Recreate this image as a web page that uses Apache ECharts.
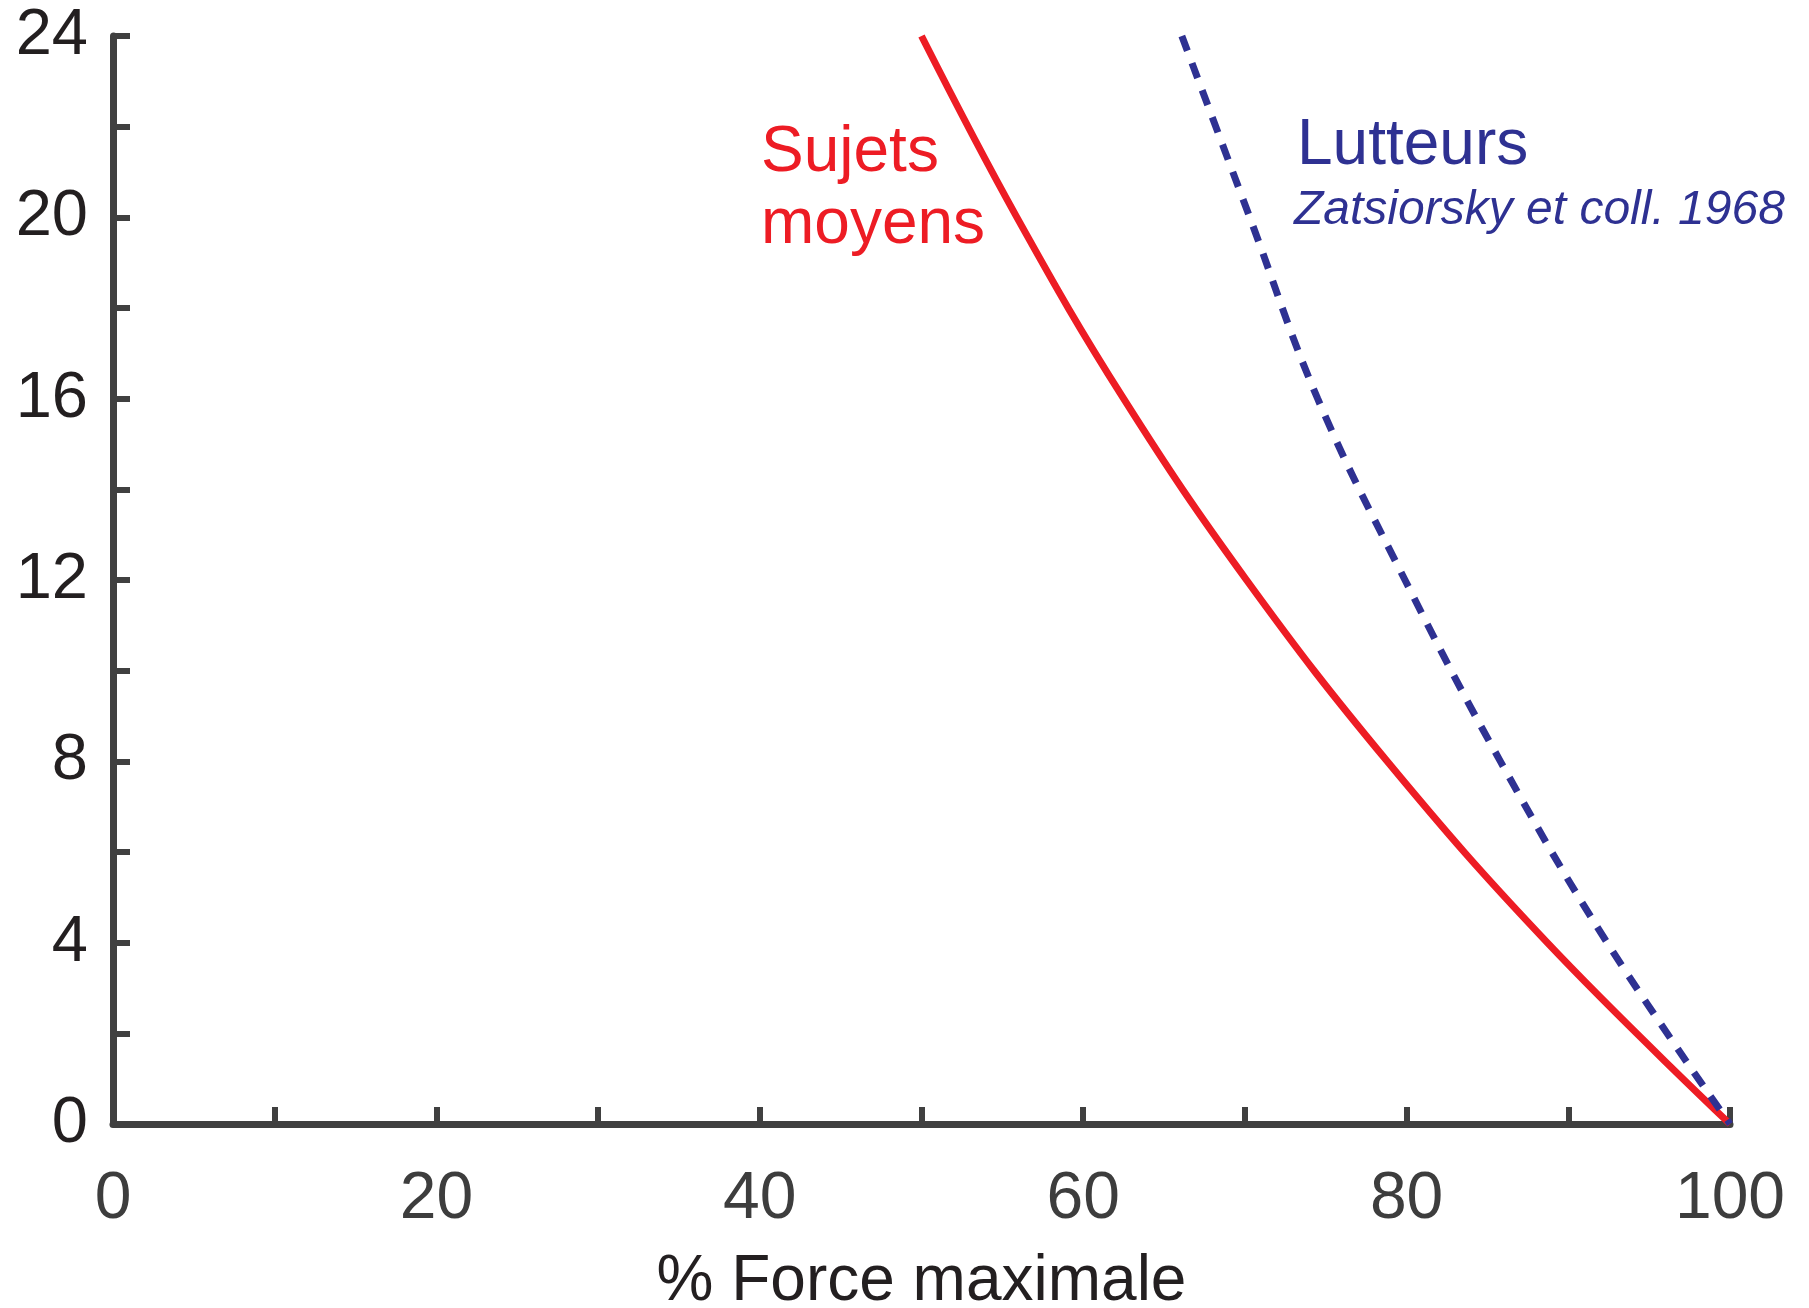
<!DOCTYPE html>
<html>
<head>
<meta charset="utf-8">
<script src="https://cdn.jsdelivr.net/npm/echarts@6/dist/echarts.min.js"></script>
<style>html,body{margin:0;padding:0;background:#fff}#c{width:1809px;height:1308px}</style>
</head>
<body>
<div id="c"></div>
<script>
// Data: [% force maximale, y]
const sujetsX = [50, 55.9, 62.5, 70.1, 78.8, 88.7, 100];
const sujetsY = [24, 20, 16, 12, 8, 4, 0];
const lutteursX = [66.1, 70.3, 74.5, 79.9, 85.8, 92.4, 100];
const lutteursY = [24, 20, 16, 12, 8, 4, 0];
const xTicks = [0, 20, 40, 60, 80, 100];
const yTicks = [0, 4, 8, 12, 16, 20, 24];
const xTitle = '% Force maximale';
const label1 = 'Sujets\nmoyens';
const label2 = 'Lutteurs';
const label3 = 'Zatsiorsky et coll. 1968';

const zip = (a, b) => a.map((v, i) => [v, b[i]]);
const FONT = '"Liberation Sans", Arial, sans-serif';
const axisCol = '#404040';

const chart = echarts.init(document.getElementById('c'));
chart.setOption({
  animation: false,
  backgroundColor: '#fff',
  grid: { left: 113, right: 79, top: 36, bottom: 184, containLabel: false, outerBoundsMode: 'none' },
  xAxis: {
    type: 'value', min: 0, max: 100, interval: 10,
    name: xTitle, nameLocation: 'middle', nameGap: 126,
    nameTextStyle: { fontFamily: FONT, fontSize: 64, color: '#231f20' },
    axisLine: { lineStyle: { color: axisCol, width: 7 } },
    axisTick: { inside: true, length: 17, lineStyle: { color: axisCol, width: 6 } },
    splitLine: { show: false },
    axisLabel: {
      margin: 43, fontFamily: FONT, fontSize: 66, color: '#3d3d3d',
      formatter: v => xTicks.includes(v) ? String(v) : ''
    }
  },
  yAxis: {
    type: 'value', min: 0, max: 24, interval: 2,
    axisLine: { lineStyle: { color: axisCol, width: 7 } },
    axisTick: { inside: true, length: 17, lineStyle: { color: axisCol, width: 6 } },
    splitLine: { show: false },
    axisLabel: {
      margin: 25, fontFamily: FONT, fontSize: 65, color: '#231f20',
      padding: [10, 0, 0, 0],
      formatter: v => yTicks.includes(v) ? String(v) : ''
    }
  },
  series: [
    {
      type: 'line', data: zip(sujetsX, sujetsY), smooth: 0.4, symbol: 'none',
      lineStyle: { color: '#ed1c24', width: 7 }, z: 3
    },
    {
      type: 'line', data: zip(lutteursX, lutteursY), smooth: 0.4, symbol: 'none',
      lineStyle: { color: '#2e3192', width: 7, type: [16, 13], cap: 'butt' }, z: 4
    }
  ],
  graphic: [
    { type: 'text', left: 761, top: 117, style: { text: label1, font: '64px ' + FONT, fill: '#ed1c24', lineHeight: 72 } },
    { type: 'text', left: 1297, top: 114, style: { text: label2, font: '64px ' + FONT, fill: '#2e3192' } },
    { type: 'text', left: 1294, top: 187, style: { text: label3, font: 'italic 48px ' + FONT, fill: '#2e3192' } }
  ]
});
</script>
</body>
</html>
